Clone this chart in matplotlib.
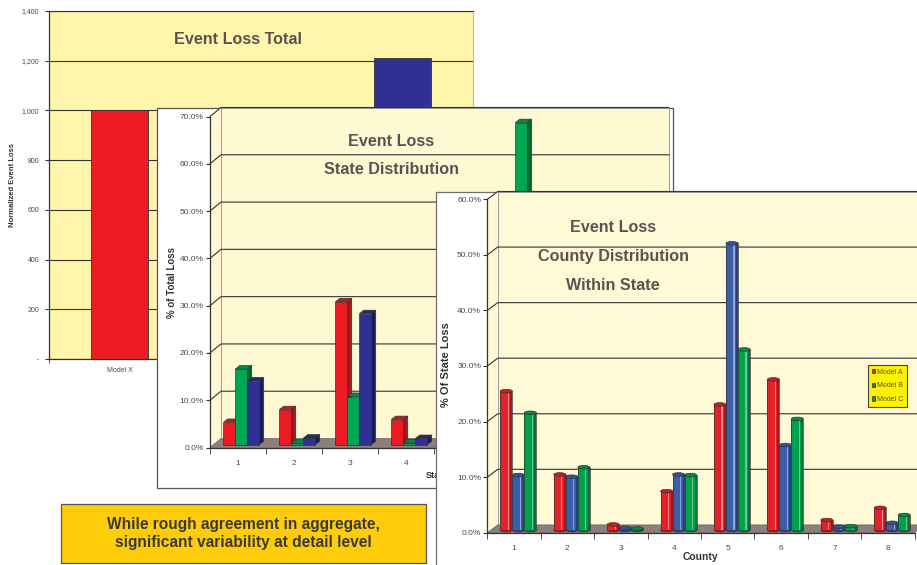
import numpy as np
import matplotlib
matplotlib.use("Agg")
import matplotlib.pyplot as plt
from matplotlib.patches import Rectangle, Polygon, Ellipse, Patch
from matplotlib.transforms import Affine2D
from matplotlib.ticker import FuncFormatter, FixedLocator

plt.rcParams['font.family'] = ['Liberation Sans', 'DejaVu Sans']

# ---------------- data ----------------
total_models = ["Model X", "Model Y", "Model Z"]
total_values = [1000, np.nan, 1210]
total_colors = ["#ED1C24", "#00A651", "#2E3192"]

states = ["1", "2", "3", "4", "5", "6", "7", "8"]
state_red = [4.7, 7.4, 30.2, 5.3, np.nan, np.nan, np.nan, np.nan]
state_green = [16.0, 0.3, 10.2, 0.4, np.nan, 68.1, np.nan, np.nan]
state_blue = [13.5, 1.4, 27.7, 1.3, np.nan, np.nan, np.nan, np.nan]

counties = ["1", "2", "3", "4", "5", "6", "7", "8"]
county_model_names = ["Model A", "Model B", "Model C"]
county_a = [25.0, 10.0, 1.0, 7.0, 22.6, 27.1, 1.8, 4.0]
county_b = [9.9, 9.6, 0.4, 10.0, 51.6, 15.3, 0.6, 1.3]
county_c = [21.1, 11.3, 0.3, 9.9, 32.5, 20.0, 0.7, 2.7]

W, H = 917, 565
fig = plt.figure(figsize=(W / 100, H / 100), dpi=100)
fig.patch.set_facecolor("white")

# image-pixel coordinates (origin top-left)
px = Affine2D().scale(1 / W, -1 / H).translate(0, 1) + fig.transFigure


def box(l, t, r, b):
    return [l / W, 1 - b / H, (r - l) / W, (b - t) / H]


TITLE_C = "#5a5252"
TICK_C = "#4a4a4a"
LINE_C = "#333333"
TITLE_FS = 11.6

# ================= Event Loss Total =================
ax1 = fig.add_axes(box(49, 11, 473, 359), zorder=1)
ax1.set_facecolor("#FFF6AC")
x1 = np.arange(len(total_models))
ax1.bar(x1, total_values, width=0.40, color=total_colors, edgecolor=LINE_C,
        linewidth=0.6, zorder=2)
ax1.set_xlim(-0.5, len(total_models) - 0.5)
ax1.set_ylim(0, 1400)
ax1.set_yticks(np.arange(0, 1401, 200))
ax1.yaxis.set_major_formatter(FuncFormatter(lambda v, p: "-" if v == 0 else f"{v:,.0f}"))
ax1.yaxis.grid(True, color=LINE_C, linewidth=0.8)
ax1.set_axisbelow(True)
ax1.set_xticks(x1)
ax1.set_xticklabels(total_models)
ax1.xaxis.set_minor_locator(FixedLocator(np.arange(-0.5, len(total_models), 1.0)))
ax1.tick_params(axis="x", which="major", length=0, labelsize=5, labelcolor=TICK_C, pad=6)
ax1.tick_params(axis="x", which="minor", length=3, color=LINE_C)
ax1.tick_params(axis="y", length=3, color=LINE_C, labelsize=5, labelcolor=TICK_C, pad=4)
for s in ("left", "bottom"):
    ax1.spines[s].set_color(LINE_C)
    ax1.spines[s].set_linewidth(0.9)
ax1.spines["top"].set_color(LINE_C)
ax1.spines["top"].set_linewidth(0.8)
ax1.spines["right"].set_color("#b8b8b8")
ax1.text(13, 185, "Normalized Event Loss", transform=px, rotation=90, ha="center",
         va="center", fontsize=5.5, fontweight="bold", color="#333333", clip_on=False)
ax1.text(238, 40, "Event Loss Total", transform=px, ha="center", va="center",
         fontsize=TITLE_FS, fontweight="bold", color=TITLE_C, clip_on=False)


def setup_3d_axes(ax, ncat, ymax, step, dxp, dyp, sx, sy, wall, floor):
    """Walls, floor, gridlines and ticks of a pseudo-3D column chart."""
    ax.patch.set_visible(False)
    ax.set_xlim(0, ncat)
    ax.set_ylim(0, ymax)
    DX, DY = dxp / sx, dyp / sy
    ax.add_patch(Polygon([(0, 0), (DX, DY), (DX, ymax + DY), (0, ymax)], closed=True,
                         fc=wall, ec="none", zorder=0.2, clip_on=False))
    ax.add_patch(Rectangle((DX, DY), ncat, ymax, fc=wall, ec="#9a9a9a", lw=0.7,
                           zorder=0.3, clip_on=False))
    ax.add_patch(Polygon([(0, 0), (ncat, 0), (ncat + DX, DY), (DX, DY)], closed=True,
                         fc=floor, ec="#6a6060", lw=0.5, zorder=0.4, clip_on=False))
    for v in np.arange(step, ymax + step / 2, step):
        ax.plot([0, DX, ncat + DX], [v, v + DY, v + DY], color=LINE_C, lw=0.8,
                zorder=0.5, clip_on=False)
    for s in ("top", "right"):
        ax.spines[s].set_visible(False)
    for s in ("left", "bottom"):
        ax.spines[s].set_color(LINE_C)
        ax.spines[s].set_linewidth(0.9)
    ax.set_yticks(np.arange(0, ymax + step / 2, step))
    ax.yaxis.set_major_formatter(FuncFormatter(lambda v, p: f"{v:.1f}%"))
    ax.set_xticks(np.arange(ncat) + 0.5)
    ax.xaxis.set_minor_locator(FixedLocator(np.arange(0, ncat + 0.5, 1.0)))
    ax.tick_params(axis="x", which="major", length=0, labelsize=6, labelcolor=TICK_C, pad=9)
    ax.tick_params(axis="x", which="minor", length=4, color=LINE_C)
    ax.tick_params(axis="y", length=3, color=LINE_C, labelsize=6, labelcolor=TICK_C, pad=1.5)
    return DX, DY


# ================= Event Loss State Distribution =================
ax2 = fig.add_axes(box(210, 116.5, 658, 447.5), zorder=2)
ax2.add_patch(Rectangle((157, 107.5), 516, 380.5, transform=px, fc="white",
                        ec="#555555", lw=0.9, zorder=-10, clip_on=False))
S2X, S2Y = 56.0, 4.729
DX2, DY2 = setup_3d_axes(ax2, len(states), 70, 10, 11, 9, S2X, S2Y, "#FFF9D3", "#8C7F7D")
ax2.set_xticklabels(states)

bw2 = 12.0 / S2X
ox2, oy2 = 0.3 * DX2, 0.3 * DY2
bdx2, bdy2 = 0.4 * DX2, 0.4 * DY2
state_series = [
    (state_red, "#ED1C24", "#C5161D", "#9B1A1F"),
    (state_green, "#00A651", "#008B41", "#006A31"),
    (state_blue, "#2E3192", "#262874", "#1C1E5A"),
]
z = 1.0
for i in range(len(states)):
    center = i + 0.5 + ox2
    for k, (vals, front, top, side) in enumerate(state_series):
        h = vals[i]
        if np.isnan(h):
            continue
        xl = center + (k - 1.5) * bw2
        xr = xl + bw2
        ax2.bar([xl], [h], width=bw2, bottom=oy2, align="edge", color=front,
                edgecolor=LINE_C, linewidth=0.5, zorder=z, clip_on=False)
        yt = oy2 + h
        ax2.add_patch(Polygon([(xl, yt), (xr, yt), (xr + bdx2, yt + bdy2), (xl + bdx2, yt + bdy2)],
                              closed=True, fc=top, ec=LINE_C, lw=0.5, zorder=z + 0.01, clip_on=False))
        ax2.add_patch(Polygon([(xr, oy2), (xr + bdx2, oy2 + bdy2), (xr + bdx2, yt + bdy2), (xr, yt)],
                              closed=True, fc=side, ec=LINE_C, lw=0.5, zorder=z + 0.02, clip_on=False))
        z += 0.1

ax2.text(172, 283, "% of Total Loss", transform=px, rotation=90, ha="center", va="center",
         fontsize=7, fontweight="bold", color="#333333", clip_on=False)
ax2.text(437, 475, "State", transform=px, ha="center", va="center",
         fontsize=6.5, fontweight="bold", color="#333333", clip_on=False)
ax2.text(391, 141, "Event Loss", transform=px, ha="center", va="center",
         fontsize=TITLE_FS, fontweight="bold", color=TITLE_C, clip_on=False)
ax2.text(391, 169, "State Distribution", transform=px, ha="center", va="center",
         fontsize=TITLE_FS, fontweight="bold", color=TITLE_C, clip_on=False)

# ================= Event Loss County Distribution =================
ax3 = fig.add_axes(box(487.3, 199.3, 914.5, 532.7), zorder=3)
ax3.add_patch(Rectangle((436, 192), 500, 390, transform=px, fc="white",
                        ec="#6f6f6f", lw=0.9, zorder=-10, clip_on=False))
S3X, S3Y = 53.4, 5.557
DX3, DY3 = setup_3d_axes(ax3, len(counties), 60, 10, 10.4, 7.8, S3X, S3Y, "#FFF9D5", "#8C7F7D")
ax3.set_xticklabels(counties)

bw3 = 12.0 / S3X
ox3, oy3 = 0.42 * DX3, 0.34 * DY3
eh3 = 3.6 / S3Y
county_series = [
    (county_a, "#E42228", "#F28A8D", "#A6171C", "#C91D22"),
    (county_b, "#3C5DA8", "#8EA3D3", "#27417D", "#33519A"),
    (county_c, "#00A14B", "#63C78E", "#00733A", "#008E42"),
]
z = 1.0
for i in range(len(counties)):
    center = i + 0.5 + ox3
    for k, (vals, base, light, dark, topc) in enumerate(county_series):
        h = vals[i]
        xl = center + (k - 1.5) * bw3
        xc = xl + bw3 / 2
        yt = oy3 + h
        ax3.add_patch(Ellipse((xc, oy3), bw3, eh3, fc=dark, ec=LINE_C, lw=0.5,
                              zorder=z, clip_on=False))
        ax3.bar([xl], [h], width=bw3, bottom=oy3, align="edge", color=base,
                edgecolor="none", linewidth=0, zorder=z + 0.01, clip_on=False)
        ax3.add_patch(Rectangle((xl + 0.62 * bw3, oy3), 0.1 * bw3, h, fc=light, ec="none",
                                zorder=z + 0.02, clip_on=False))
        ax3.add_patch(Rectangle((xl + 0.84 * bw3, oy3), 0.16 * bw3, h, fc=dark, ec="none",
                                zorder=z + 0.02, clip_on=False))
        ax3.plot([xl, xl], [oy3, yt], color=LINE_C, lw=0.5, zorder=z + 0.03, clip_on=False)
        ax3.plot([xl + bw3, xl + bw3], [oy3, yt], color=LINE_C, lw=0.5, zorder=z + 0.03, clip_on=False)
        ax3.add_patch(Ellipse((xc, yt), bw3, eh3, fc=topc, ec=LINE_C, lw=0.5,
                              zorder=z + 0.04, clip_on=False))
        z += 0.1

ax3.text(446, 365, "% Of State Loss", transform=px, rotation=90, ha="center", va="center",
         fontsize=8, fontweight="bold", color="#333333", clip_on=False)
ax3.text(700.7, 557, "County", transform=px, ha="center", va="center",
         fontsize=7.5, fontweight="bold", color="#333333", clip_on=False)
for txt, yy in (("Event Loss", 228), ("County Distribution", 257), ("Within State", 285)):
    ax3.text(613, yy, txt, transform=px, ha="center", va="center",
             fontsize=TITLE_FS, fontweight="bold", color=TITLE_C, clip_on=False)

handles = [Patch(fc=s[1], ec=LINE_C, lw=0.5) for s in county_series]
leg = ax3.legend(handles, county_model_names, loc="upper left", bbox_to_anchor=(867.7, 365),
                 bbox_transform=px, fontsize=5, frameon=True, fancybox=False,
                 facecolor="#FFF200", edgecolor="#444444", framealpha=1,
                 handlelength=0.55, handleheight=0.55, handletextpad=0.2,
                 labelspacing=0.95, borderpad=0.55, borderaxespad=0)
leg.get_frame().set_linewidth(0.8)
for t in leg.get_texts():
    t.set_color("#555555")
leg.set_zorder(50)

# ================= note box =================
ax3.add_patch(Rectangle((61, 504), 365, 59, transform=px, fc="#FFCC0A", ec="#555555",
                        lw=0.9, zorder=60, clip_on=False))
ax3.text(243.5, 533.5, "While rough agreement in aggregate,\nsignificant variability at detail level",
         transform=px, ha="center", va="center", fontsize=11.2, fontweight="bold",
         color="#3a3a3a", linespacing=1.32, zorder=61, clip_on=False)

fig.savefig("out.png", dpi=100, facecolor="white")
